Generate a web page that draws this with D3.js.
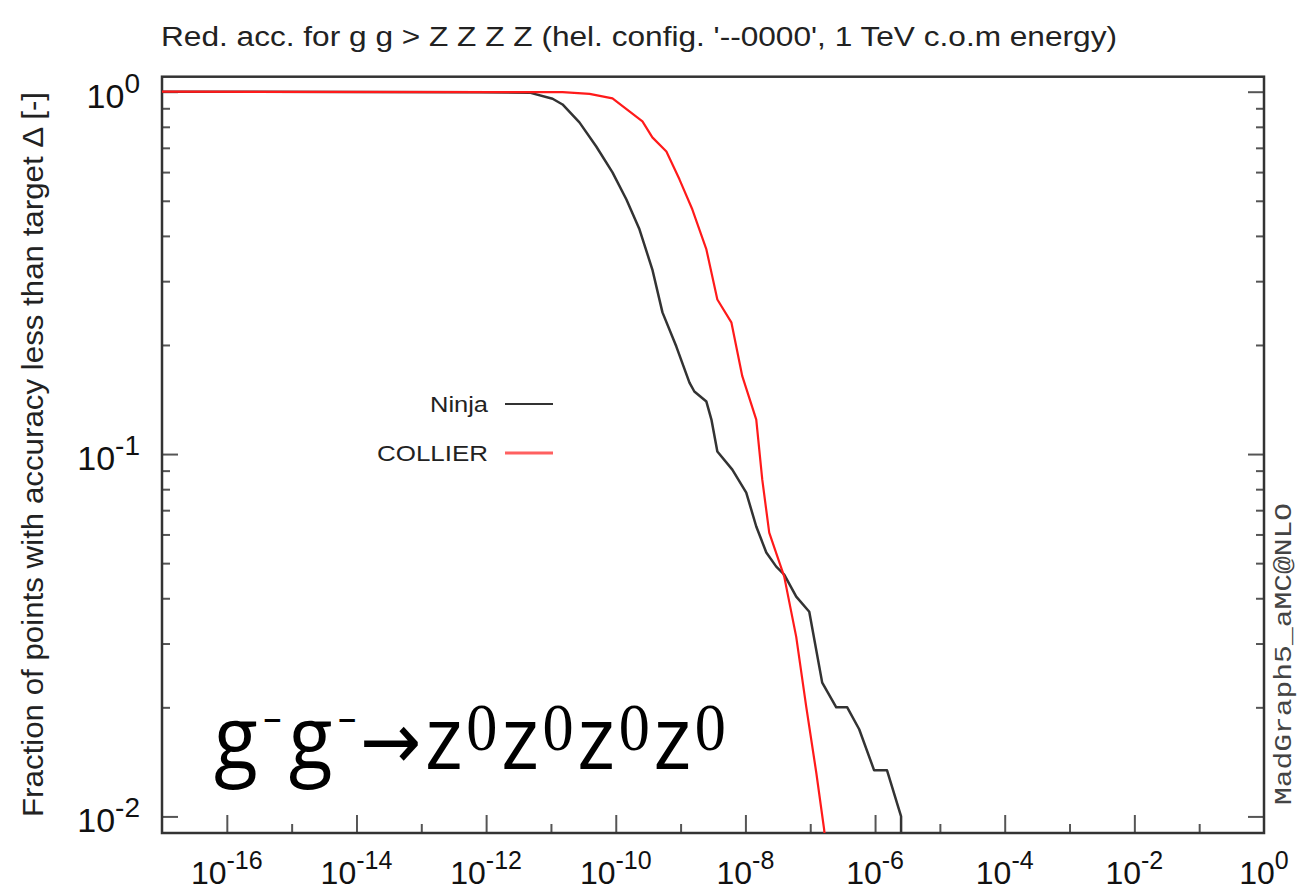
<!DOCTYPE html>
<html><head><meta charset="utf-8">
<script src="https://cdn.jsdelivr.net/npm/d3@7"></script>
<style>body{margin:0;background:#fff} svg{display:block}</style>
</head><body>
<svg id="chart" width="1298" height="890"></svg>
<script>
// ---- data ----
const titleText = "Red. acc. for g g > Z Z Z Z (hel. config. '--0000', 1 TeV c.o.m energy)";
const yLabelText = "Fraction of points with accuracy less than target \u0394 [-]";
const sideLabel = "MadGraph5_aMC@NLO";
const seriesNames = ["Ninja", "COLLIER"];
const xMajorExps = [-16, -14, -12, -10, -8, -6, -4, -2, 0];
const xMinorExps = [-15, -13, -11, -9, -7, -5, -3, -1];
const yMajorExps = [0, -1, -2];

const ninjaTarget = [1e-17, 7.9e-13, 4.7e-12, 1.06e-11, 1.51e-11, 2.75e-11, 5.0e-11, 8.9e-11, 1.46e-10, 2.32e-10,
  3.67e-10, 5.25e-10, 8.6e-10, 1.37e-9, 1.63e-9, 2.5e-9, 2.99e-9, 3.69e-9, 6.28e-9, 1.03e-8,
  1.47e-8, 2.10e-8, 2.99e-8, 3.97e-8, 6.08e-8, 9.66e-8, 1.53e-7, 2.52e-7, 3.72e-7, 5.69e-7,
  9.68e-7, 1.53e-6, 2.52e-6, 2.52e-6];
const ninjaFraction = [1.0, 0.997, 0.994, 0.956, 0.922, 0.823, 0.706, 0.599, 0.504, 0.417,
  0.323, 0.246, 0.198, 0.1575, 0.1488, 0.1396, 0.1245, 0.1016, 0.0906, 0.0783,
  0.0631, 0.0535, 0.0489, 0.0465, 0.0404, 0.0367, 0.0234, 0.0200, 0.0200, 0.0174,
  0.0134, 0.0134, 0.0100, 0.005];

const collierTarget = [1e-17, 1.51e-11, 3.94e-11, 8.9e-11, 2.58e-10, 3.67e-10, 6.04e-10, 9.6e-10, 1.52e-9, 2.5e-9,
  3.69e-9, 6.07e-9, 8.95e-9, 1.47e-8, 1.82e-8, 2.33e-8, 3.97e-8, 6.08e-8, 8.67e-8, 1.24e-7,
  1.64e-7, 1.75e-7];
const collierFraction = [1.0, 0.997, 0.986, 0.958, 0.828, 0.748, 0.684, 0.573, 0.473, 0.367,
  0.267, 0.231, 0.164, 0.1245, 0.085, 0.0607, 0.0459, 0.0313, 0.0201, 0.0132,
  0.0092, 0.008];

const seriesColors = ["#333333", "#ff1a1a"];
const legendColors = ["#333333", "#ff6060"];

// ---- layout ----
const L = 162, R = 1264, T = 76.7, B = 833;
const svg = d3.select("#chart");
const x = d3.scaleLog().domain([1e-17, 1]).range([L, R]);
const y = d3.scaleLog().domain([1.1, 0.009]).range([T, B]);

const yMinor = [];
[-2, -1].forEach(e => { for (let k = 2; k <= 9; k++) yMinor.push(k * Math.pow(10, e)); });
const yMajor = yMajorExps.map(e => Math.pow(10, e));

svg.append("defs").append("clipPath").attr("id", "clip")
  .append("rect").attr("x", L).attr("y", T).attr("width", R - L).attr("height", B - T);

function styleAxis(g) {
  g.select(".domain").remove();
  g.selectAll(".tick line").attr("stroke", "#555").attr("stroke-width", 2);
  g.selectAll(".tick text").remove();
}
svg.append("g").attr("transform", `translate(0,${B})`)
  .call(d3.axisBottom(x).tickValues(xMajorExps.slice(0, -1).map(e => Math.pow(10, e))).tickSize(-18).tickFormat(""))
  .call(styleAxis);
svg.append("g").attr("transform", `translate(0,${B})`)
  .call(d3.axisBottom(x).tickValues(xMinorExps.map(e => Math.pow(10, e))).tickSize(-9).tickFormat(""))
  .call(styleAxis);
svg.append("g").attr("transform", `translate(${L},0)`)
  .call(d3.axisLeft(y).tickValues(yMajor).tickSize(-16).tickFormat("")).call(styleAxis);
svg.append("g").attr("transform", `translate(${L},0)`)
  .call(d3.axisLeft(y).tickValues(yMinor).tickSize(-8).tickFormat("")).call(styleAxis);
svg.append("g").attr("transform", `translate(${R},0)`)
  .call(d3.axisRight(y).tickValues(yMajor).tickSize(-16).tickFormat("")).call(styleAxis);
svg.append("g").attr("transform", `translate(${R},0)`)
  .call(d3.axisRight(y).tickValues(yMinor).tickSize(-8).tickFormat("")).call(styleAxis);

svg.append("rect").attr("x", L).attr("y", T).attr("width", R - L).attr("height", B - T)
  .attr("fill", "none").attr("stroke", "#333").attr("stroke-width", 2.5);

const series = [
  { name: seriesNames[0], xs: ninjaTarget, ys: ninjaFraction, color: seriesColors[0], w: 2.5 },
  { name: seriesNames[1], xs: collierTarget, ys: collierFraction, color: seriesColors[1], w: 2.2 }
];
const line = d3.line().x(d => x(d[0])).y(d => y(d[1]));
series.forEach(s => {
  svg.append("path").attr("clip-path", "url(#clip)")
    .attr("d", line(s.xs.map((v, i) => [v, s.ys[i]])))
    .attr("fill", "none").attr("stroke", s.color).attr("stroke-width", s.w)
    .attr("stroke-linejoin", "round");
});

// tick labels
const font = "'Liberation Sans', Arial, sans-serif";
function powLabel(px, py, exp, anchor, base, sup, dy) {
  const t = svg.append("text").attr("x", px).attr("y", py).attr("text-anchor", anchor)
    .attr("font-family", font).attr("fill", "#111");
  t.append("tspan").attr("font-size", base).text("10");
  t.append("tspan").attr("font-size", sup).attr("dy", dy).text(exp === 0 ? "0" : String(exp));
  return t;
}
xMajorExps.forEach(e => powLabel(x(Math.pow(10, e)), 884, e, "middle", 32, 25, -15));
yMajorExps.forEach(e => powLabel(140, y(Math.pow(10, e)) + 16, e, "end", 34, 28, -15));

// title
svg.append("text").attr("x", 161).attr("y", 46).attr("font-family", font).attr("font-size", 27)
  .attr("fill", "#222").attr("textLength", 956).attr("lengthAdjust", "spacingAndGlyphs").text(titleText);

// y label
svg.append("text").attr("transform", `translate(43,454.5) rotate(-90)`).attr("text-anchor", "middle")
  .attr("font-family", font).attr("font-size", 29).attr("fill", "#222")
  .attr("textLength", 725).attr("lengthAdjust", "spacingAndGlyphs").text(yLabelText);

// side label
svg.append("text").attr("transform", `translate(1291,654) rotate(-90)`).attr("text-anchor", "middle")
  .attr("font-family", "'Liberation Mono', 'DejaVu Sans Mono', monospace").attr("font-size", 24).attr("fill", "#444")
  .attr("textLength", 302).attr("lengthAdjust", "spacingAndGlyphs").text(sideLabel);

// legend
const legY = [404, 453];
const legLen = [58, 111];
series.forEach((s, i) => {
  svg.append("text").attr("x", 488).attr("y", legY[i] + 8).attr("text-anchor", "end")
    .attr("font-family", font).attr("font-size", 22).attr("fill", "#222")
    .attr("textLength", legLen[i]).attr("lengthAdjust", "spacingAndGlyphs").text(s.name);
  svg.append("line").attr("x1", 505).attr("x2", 553).attr("y1", legY[i]).attr("y2", legY[i])
    .attr("stroke", legendColors[i]).attr("stroke-width", i === 0 ? 2.2 : 3.2);
});

// annotation: g- g- -> z0 z0 z0 z0
const ann = svg.append("g");
const at = ann.append("text").attr("x", 0).attr("y", 769).attr("fill", "#000");
const sans = "'Open Sans', sans-serif", serif = "'Liberation Serif', 'DejaVu Serif', serif";
function piece(txt, fam, size, dy, dx) {
  const ts = at.append("tspan").attr("font-family", fam).attr("font-size", size).text(txt);
  if (dy) ts.attr("dy", dy);
  if (dx) ts.attr("dx", dx);
}
piece("g", sans, 88);
piece("\u2013", sans, 40, -38, 6);
piece("g", sans, 88, 38, 8);
piece("\u2013", sans, 40, -38, 6);
piece("\u2192", "'DejaVu Sans', sans-serif", 80, 38, 4);
["z", "z", "z", "z"].forEach((z, i) => {
  piece(z, sans, 88, i === 0 ? 0 : 19, 4);
  piece("0", serif, 68, -19, 4);
});
const bb = at.node().getBBox();
const sx = 512 / bb.width;
ann.attr("transform", `translate(214,0) scale(${sx},1) translate(${-bb.x},0)`);
</script>
</body></html>
